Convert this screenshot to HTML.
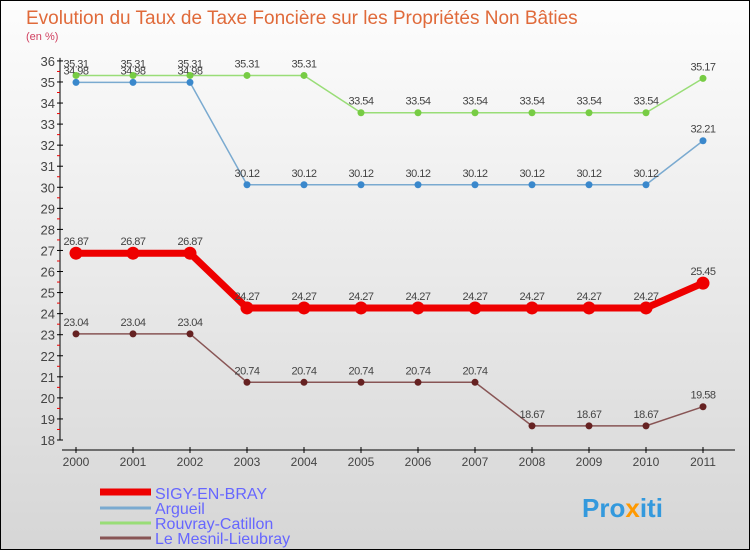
<!DOCTYPE html>
<html><head><meta charset="utf-8"><style>
body{margin:0}
#c{width:750px;height:550px;position:relative;overflow:hidden;font-family:"Liberation Sans",sans-serif}
</style></head><body>
<div id="c">
<svg id="s" width="750" height="550" xmlns="http://www.w3.org/2000/svg">
<defs><linearGradient id="bg" x1="0" y1="0" x2="0" y2="1"><stop offset="0" stop-color="#fdfdfd"/><stop offset="1" stop-color="#d6d6d6"/></linearGradient></defs>
<rect x="0.5" y="0.5" width="749" height="549" fill="url(#bg)" stroke="#000" stroke-width="1"/>
<text x="26" y="24" font-size="19" fill="#e06a3a">Evolution du Taux de Taxe Foncière sur les Propriétés Non Bâties</text>
<text x="26" y="40" font-size="11" fill="#d04060">(en %)</text>
<g id="axes"></g><g id="series"></g>
<g>
<line x1="100" y1="492" x2="151" y2="492" stroke="#ee0000" stroke-width="7"/>
<text x="155" y="499" font-size="16" fill="#6666ff">SIGY-EN-BRAY</text>
<line x1="100" y1="508" x2="151" y2="508" stroke="#7aaad0" stroke-width="3"/>
<text x="155" y="514" font-size="16" fill="#6666ff">Argueil</text>
<line x1="100" y1="523" x2="151" y2="523" stroke="#99dd77" stroke-width="3"/>
<text x="155" y="529" font-size="16" fill="#6666ff">Rouvray-Catillon</text>
<line x1="100" y1="538" x2="151" y2="538" stroke="#885555" stroke-width="3"/>
<text x="155" y="544" font-size="16" fill="#6666ff">Le Mesnil-Lieubray</text>
</g>
<text x="582" y="517" font-size="26" font-weight="bold" fill="#3399dd">Pro<tspan fill="#ff9900">x</tspan>iti</text>
</svg></div>
<script>
const years=[2000,2001,2002,2003,2004,2005,2006,2007,2008,2009,2010,2011];
const yTicks=[18,19,20,21,22,23,24,25,26,27,28,29,30,31,32,33,34,35,36];
const sigy=[26.87,26.87,26.87,24.27,24.27,24.27,24.27,24.27,24.27,24.27,24.27,25.45];
const argueil=[34.98,34.98,34.98,30.12,30.12,30.12,30.12,30.12,30.12,30.12,30.12,32.21];
const rouvray=[35.31,35.31,35.31,35.31,35.31,33.54,33.54,33.54,33.54,33.54,33.54,35.17];
const mesnil=[23.04,23.04,23.04,20.74,20.74,20.74,20.74,20.74,18.67,18.67,18.67,19.58];
const NS="http://www.w3.org/2000/svg";
const X=i=>76+i*57;
const Y=v=>440-(v-18)*21.06;
function mk(t,a,p){const e=document.createElementNS(NS,t);for(const k in a)e.setAttribute(k,a[k]);p.appendChild(e);return e;}
const ax=document.getElementById('axes');
let l=mk('line',{x1:60,y1:Y(36)-3,x2:60,y2:Y(18),stroke:'#000'},ax);


yTicks.forEach(v=>{
 mk('line',{x1:57,x2:63,y1:Y(v),y2:Y(v),stroke:'#000'},ax);
 if(v<36)mk('line',{x1:57,x2:60,y1:Y(v+0.5),y2:Y(v+0.5),stroke:'#e00'},ax);
 const t=mk('text',{x:55,y:Y(v)+5,'font-size':13,fill:'#444','text-anchor':'end'},ax);t.textContent=v;
 
 
});
l=mk('line',{x1:62,y1:450,x2:735,y2:450,stroke:'#000'},ax);


years.forEach((y,i)=>{
 mk('line',{x1:X(i),x2:X(i),y1:447,y2:453,stroke:'#000'},ax);
 const t=mk('text',{x:X(i),y:466,'font-size':12,fill:'#444','text-anchor':'middle'},ax);t.textContent=y;
 
 
});
const sg=document.getElementById('series');
function series(name,vals,color,dot,w,r,fs){
 const g=mk('g',{},sg);
 
 
 const p=mk('polyline',{points:vals.map((v,i)=>X(i)+','+Y(v)).join(' '),fill:'none',stroke:color,'stroke-width':w},g);
 
 
 vals.forEach((v,i)=>{
  const c=mk('circle',{cx:X(i),cy:Y(v),r:r,fill:dot},g);
  
  
  const t=mk('text',{x:X(i),y:Y(v)-8,'font-size':fs,fill:'#444','text-anchor':'middle','letter-spacing':'-0.5'},g);
  t.textContent=v.toFixed(2);
  
  
 });
}
series('mesnil',mesnil,'#885555','#662222',1.5,3.5,11);
series('argueil',argueil,'#7aaad0','#3a88cc',1.5,3.5,11);
series('rouvray',rouvray,'#99dd77','#77cc44',1.5,3.5,11);
series('sigy',sigy,'#ee0000','#ee0000',7,6.5,11);
</script>
</body></html>
